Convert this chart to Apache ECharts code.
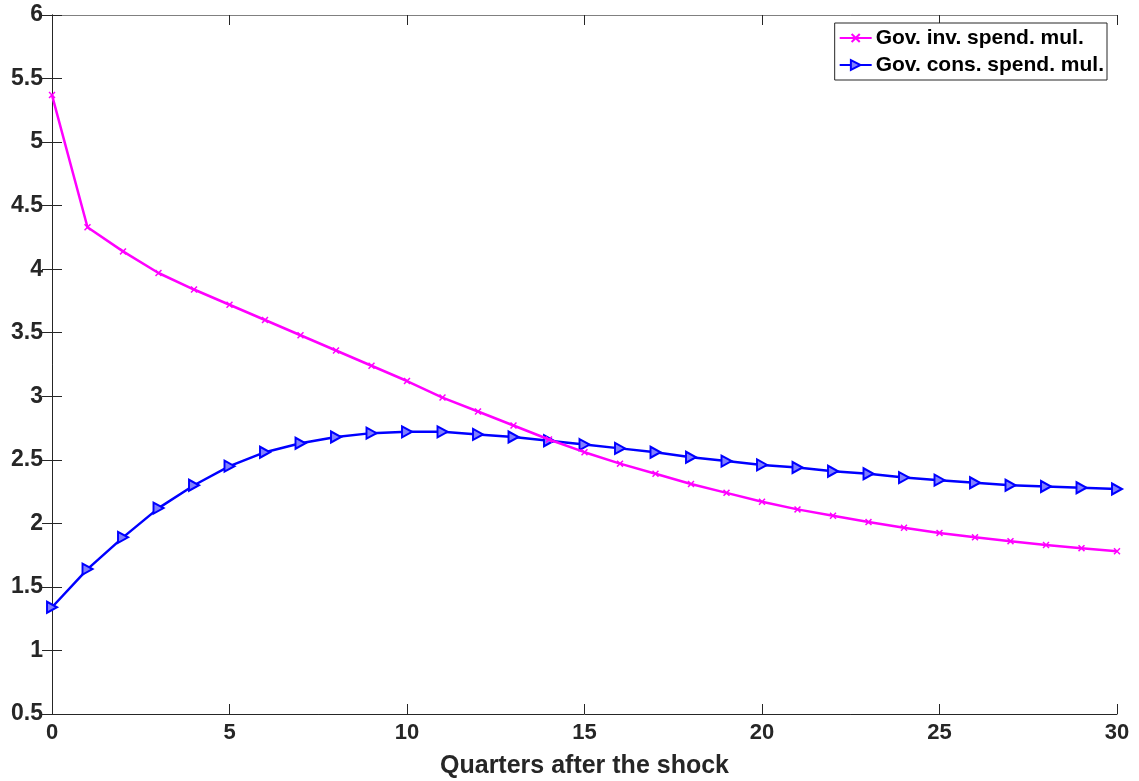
<!DOCTYPE html>
<html>
<head>
<meta charset="utf-8">
<script src="https://cdn.jsdelivr.net/npm/echarts@6/dist/echarts.min.js"></script>
<style>
  html, body { margin: 0; padding: 0; background: #fff; }
  #chart { width: 1139px; height: 781px; }
</style>
</head>
<body>
<div id="chart"></div>
<script>
// quarters after the shock
const quarters = [];
for (let q = 0; q <= 30; q++) quarters.push(q);

// Gov. investment spending multiplier
const invMul = [5.37, 4.33, 4.14, 3.97, 3.84, 3.72, 3.60, 3.48, 3.36, 3.24,
  3.12, 2.99, 2.88, 2.77, 2.66, 2.56, 2.47, 2.39, 2.31, 2.24,
  2.17, 2.11, 2.06, 2.01, 1.965, 1.925, 1.89, 1.86, 1.83, 1.805, 1.78];

// Gov. consumption spending multiplier
const consMul = [1.34, 1.64, 1.89, 2.12, 2.30, 2.45, 2.56, 2.63, 2.68, 2.71,
  2.72, 2.72, 2.70, 2.68, 2.65, 2.62, 2.59, 2.56, 2.52, 2.49,
  2.46, 2.44, 2.41, 2.39, 2.36, 2.34, 2.32, 2.30, 2.29, 2.28, 2.27];

const xTicks = [0, 5, 10, 15, 20, 25, 30];

const axisColor = "#262626";
const font = "Liberation Sans, Arial, sans-serif";

const crossPath = "path://M0,1.5L1.5,0L5,3.5L8.5,0L10,1.5L6.5,5L10,8.5L8.5,10L5,6.5L1.5,10L0,8.5L3.5,5Z";
const triPath = "path://M0,0L10,5L0,10Z";

const chart = echarts.init(document.getElementById("chart"));

const pair = (arr) => quarters.map((q, i) => [q, arr[i]]);

const option = {
  animation: false,
  backgroundColor: "#fff",
  grid: { left: 52, right: 22, top: 15, bottom: 67, outerBoundsMode: "none", containLabel: false },
  legend: {
    right: 32,
    top: 23,
    orient: "vertical",
    backgroundColor: "#fff",
    borderColor: axisColor,
    borderWidth: 1,
    borderRadius: 0,
    padding: [4, 3, 4, 4],
    itemGap: 5,
    itemWidth: 32,
    itemHeight: 12,
    textStyle: { fontFamily: font, fontWeight: "bold", fontSize: 21, color: "#000", lineHeight: 22, padding: [0, 0, 0, -1] },
    data: ["Gov. inv. spend. mul.", "Gov. cons. spend. mul."]
  },
  xAxis: [
    {
      type: "value",
      min: 0, max: 30, interval: 5,
      name: "Quarters after the shock",
      nameLocation: "middle",
      nameGap: 40,
      nameTextStyle: { fontFamily: font, fontWeight: "bold", fontSize: 25, color: axisColor },
      axisLine: { show: true, lineStyle: { color: axisColor, width: 1 } },
      axisTick: { show: true, inside: true, length: 10, lineStyle: { color: axisColor } },
      axisLabel: {
        margin: 8, fontFamily: font, fontWeight: "bold", fontSize: 22, color: axisColor,
        customValues: xTicks
      },
      splitLine: { show: false }
    },
    {
      type: "value",
      position: "top",
      min: 0, max: 30, interval: 5,
      axisLine: { show: true, lineStyle: { color: "#808080", width: 1 } },
      axisTick: { show: true, inside: true, length: 10, lineStyle: { color: axisColor } },
      axisLabel: { show: false },
      splitLine: { show: false }
    }
  ],
  yAxis: [
    {
      type: "value",
      min: 0.5, max: 6, interval: 0.5,
      axisLine: { show: true, lineStyle: { color: axisColor, width: 1 } },
      axisTick: { show: true, inside: true, length: 10, lineStyle: { color: axisColor } },
      axisLabel: { margin: 9, fontFamily: font, fontWeight: "bold", fontSize: 23, color: axisColor },
      splitLine: { show: false }
    },
    {
      type: "value",
      position: "right",
      min: 0.5, max: 6, interval: 0.5,
      axisLine: { show: true, lineStyle: { color: axisColor, width: 1 } },
      axisTick: { show: true, inside: true, length: 10, lineStyle: { color: axisColor } },
      axisLabel: { show: false },
      splitLine: { show: false }
    }
  ],
  series: [
    {
      name: "Gov. inv. spend. mul.",
      type: "line",
      data: pair(invMul),
      symbol: crossPath,
      symbolSize: 7,
      showAllSymbol: true,
      lineStyle: { color: "#ff00ff", width: 2.5 },
      itemStyle: { color: "#ff00ff" },
      z: 3
    },
    {
      name: "Gov. cons. spend. mul.",
      type: "line",
      data: pair(consMul),
      symbol: triPath,
      symbolSize: [10, 11],
      showAllSymbol: true,
      lineStyle: { color: "#0000ff", width: 2.5 },
      itemStyle: { color: "#8080ff", borderColor: "#0000ff", borderWidth: 2 },
      z: 2
    }
  ]
};

chart.setOption(option);
</script>
</body>
</html>
